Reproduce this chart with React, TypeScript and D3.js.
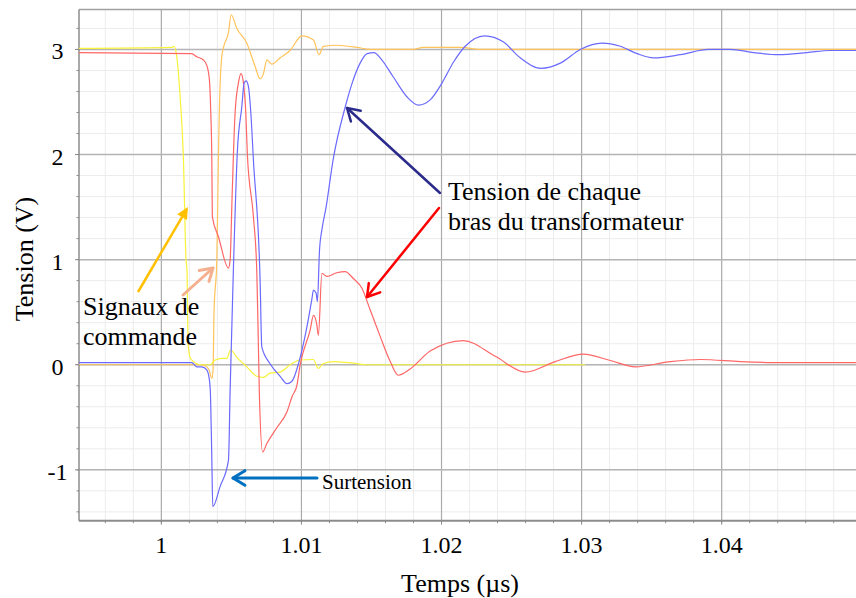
import React from "react";
import * as d3 from "d3";

// ---- data (time in µs, tension in V) ----
const xMajorTicks = [1, 1.01, 1.02, 1.03, 1.04];
const xTickLabels = ["1", "1.01", "1.02", "1.03", "1.04"];
const yMajorTicks = [-1, 0, 1, 2, 3];
const yTickLabels = ["-1", "0", "1", "2", "3"];

const yellowSignal: [number, number][] = [
  [0.9941, 3.01], [1.00076, 3.02], [1.00091, 3.03], [1.0011, 2.93], [1.00134, 2.55],
  [1.00157, 1.98], [1.00176, 1.0], [1.00183, 0.9], [1.00191, 0.2], [1.00205, 0.07],
  [1.00229, 0.03], [1.00276, 0.0], [1.00348, 0.0], [1.00384, 0.045], [1.00431, 0.06],
  [1.00467, 0.06], [1.00494, 0.14], [1.00539, 0.07], [1.0061, -0.02], [1.00681, -0.11],
  [1.00729, -0.12], [1.00776, -0.08], [1.00848, -0.07], [1.00919, 0.0], [1.00991, 0.045],
  [1.01084, 0.05], [1.01121, -0.035], [1.01155, 0.01], [1.01226, 0.03], [1.01369, 0.015],
  [1.01467, 0.0], [1.01919, 0.0], [1.03026, 0.0],
];

const orangeSignal: [number, number][] = [
  [0.9941, 0.0], [1.00276, 0.0], [1.00312, -0.01], [1.00341, -0.05], [1.0036, -0.13],
  [1.00369, -0.05], [1.00376, 0.5], [1.00396, 1.0], [1.00407, 1.95], [1.00414, 2.42],
  [1.00431, 2.93], [1.00448, 3.04], [1.00479, 3.16], [1.00498, 3.33], [1.00539, 3.2],
  [1.0061, 3.06], [1.00669, 2.84], [1.00705, 2.72], [1.00729, 2.77], [1.00753, 2.9],
  [1.00789, 2.86], [1.00848, 2.92], [1.00919, 2.99], [1.01003, 3.13], [1.01086, 3.09],
  [1.01126, 2.95], [1.01157, 3.03], [1.01253, 3.04], [1.01396, 3.02], [1.01491, 3.0],
  [1.01798, 3.0], [1.01869, 3.02], [1.02134, 3.02], [1.02276, 3.0], [1.04961, 3.0],
];

const redArm: [number, number][] = [
  [0.9941, 2.97], [1.00217, 2.96], [1.00253, 2.93], [1.003, 2.9], [1.00324, 2.85],
  [1.00343, 2.71], [1.00353, 2.39], [1.0036, 1.98], [1.00364, 1.41], [1.00407, 1.22],
  [1.00479, 0.92], [1.00491, 1.0], [1.00505, 1.6], [1.00526, 2.39], [1.0055, 2.68],
  [1.00569, 2.77], [1.00586, 2.68], [1.00603, 2.39], [1.00614, 2.0], [1.00657, 1.41],
  [1.00681, 0.9], [1.00691, 0.3], [1.007, -0.3], [1.00723, -0.83], [1.00753, -0.75],
  [1.00824, -0.6], [1.00896, -0.45], [1.00934, -0.3], [1.00967, -0.2], [1.00991, 0.0],
  [1.01062, 0.33], [1.01086, 0.47], [1.0111, 0.38], [1.01121, 0.28], [1.01146, 0.87],
  [1.01181, 0.84], [1.01253, 0.875], [1.01312, 0.885], [1.01371, 0.82], [1.01431, 0.73],
  [1.01491, 0.52], [1.01562, 0.27], [1.01634, 0.03], [1.01691, -0.1], [1.01776, -0.04],
  [1.01919, 0.13], [1.02155, 0.23], [1.02384, 0.08], [1.02598, -0.07], [1.02812, 0.03],
  [1.03012, 0.1], [1.03205, 0.04], [1.03384, -0.02], [1.03634, 0.03], [1.03848, 0.05],
  [1.04134, 0.03], [1.04419, 0.02], [1.04961, 0.02],
];

const blueArm: [number, number][] = [
  [0.9941, 0.02], [1.00217, 0.02], [1.00253, -0.02], [1.00289, -0.02], [1.00324, -0.05],
  [1.00343, -0.145], [1.00351, -0.3], [1.0036, -0.875], [1.00367, -1.35], [1.00419, -1.16],
  [1.00479, -0.91], [1.00491, -0.24], [1.00514, 0.9], [1.00543, 2.04], [1.00574, 2.45],
  [1.00591, 2.68], [1.00605, 2.7], [1.00621, 2.65], [1.00639, 2.39], [1.00657, 1.95],
  [1.00705, 0.8], [1.00717, 0.17], [1.00776, 0.01], [1.00848, -0.11], [1.00896, -0.18],
  [1.00931, -0.16], [1.00979, 0.01], [1.01039, 0.36], [1.01074, 0.62], [1.01086, 0.71],
  [1.01105, 0.68], [1.01114, 0.6], [1.01129, 1.09], [1.01148, 1.3], [1.01176, 1.5],
  [1.01226, 1.95], [1.01312, 2.45], [1.01362, 2.68], [1.01419, 2.87], [1.01469, 2.96],
  [1.01519, 2.97], [1.01562, 2.92], [1.01655, 2.74], [1.01753, 2.55], [1.01836, 2.47],
  [1.01919, 2.52], [1.02003, 2.68], [1.02086, 2.88], [1.02169, 3.03], [1.02307, 3.13],
  [1.02443, 3.07], [1.02562, 2.92], [1.0271, 2.82], [1.02848, 2.87], [1.02991, 3.0],
  [1.03146, 3.06], [1.03276, 3.03], [1.03396, 2.96], [1.03514, 2.92], [1.03705, 2.95],
  [1.03907, 3.0], [1.04062, 3.0], [1.04229, 2.97], [1.04407, 2.95], [1.0461, 2.97],
  [1.04776, 2.99], [1.04961, 2.99],
];

const W = 856;
const H = 598;
const FONT = "'Liberation Serif', 'Times New Roman', serif";

function Arrow({ x1, y1, x2, y2, color, width, filled }: any) {
  const ang = Math.atan2(y2 - y1, x2 - x1);
  const L = filled ? 13 : 14;
  const spread = filled ? 0.45 : 0.55;
  const ax = x2 - L * Math.cos(ang - spread);
  const ay = y2 - L * Math.sin(ang - spread);
  const bx = x2 - L * Math.cos(ang + spread);
  const by = y2 - L * Math.sin(ang + spread);
  if (filled) {
    const mx = x2 - L * 0.8 * Math.cos(ang);
    const my = y2 - L * 0.8 * Math.sin(ang);
    return (
      <g>
        <line x1={x1} y1={y1} x2={mx} y2={my} stroke={color} strokeWidth={width} />
        <path d={`M${x2},${y2}L${ax},${ay}L${bx},${by}Z`} fill={color} />
      </g>
    );
  }
  return (
    <g fill="none" stroke={color} strokeWidth={width} strokeLinecap="round" strokeLinejoin="round">
      <line x1={x1} y1={y1} x2={x2} y2={y2} />
      <path d={`M${ax},${ay}L${x2},${y2}L${bx},${by}`} />
    </g>
  );
}

export default function App() {
  const left = 79, right = 856, top = 9.5, bottom = 520.7;
  const x = d3.scaleLinear().domain([0.99412, 1.04959]).range([left, right]);
  const y = d3.scaleLinear().domain([-1.484, 3.38]).range([bottom, top]);

  const xMinor = d3.range(0, 28).map((i) => +(0.994 + i * 0.002).toFixed(4)).filter((v) => x(v) >= left && x(v) <= right);
  const yMinor = d3.range(0, 24).map((i) => +(-1.4 + i * 0.2).toFixed(2));

  const line = d3
    .line<[number, number]>()
    .x((d) => x(d[0]))
    .y((d) => y(d[1]))
    .curve(d3.curveMonotoneX);

  const series = [
    { data: orangeSignal, color: "#ffc35a" },
    { data: yellowSignal, color: "#f7f23a" },
    { data: redArm, color: "#ff6666" },
    { data: blueArm, color: "#6a6aff" },
  ];

  return (
    <svg width={W} height={H} style={{ position: "absolute", left: 0, top: 0, background: "#fff" }} fontFamily={FONT}>
      <defs>
        <clipPath id="plotclip">
          <rect x={left} y={top} width={right - left} height={bottom - top} />
        </clipPath>
      </defs>
      <rect x={0} y={0} width={W} height={H} fill="#fff" />
      {/* minor grid */}
      {xMinor.map((v, i) => (
        <line key={"xm" + i} x1={x(v)} x2={x(v)} y1={top} y2={bottom} stroke="#ececec" strokeWidth={1} />
      ))}
      {yMinor.map((v, i) => (
        <line key={"ym" + i} x1={left} x2={right} y1={y(v)} y2={y(v)} stroke="#ececec" strokeWidth={1} />
      ))}
      {/* major grid */}
      {xMajorTicks.map((v, i) => (
        <line key={"xg" + i} x1={x(v)} x2={x(v)} y1={top} y2={bottom} stroke="#ababab" strokeWidth={1.2} />
      ))}
      {yMajorTicks.map((v, i) => (
        <line key={"yg" + i} x1={left} x2={right} y1={y(v)} y2={y(v)} stroke="#b4b4b4" strokeWidth={1.5} />
      ))}
      {/* frame */}
      <line x1={left} x2={right} y1={top} y2={top} stroke="#a0a0a0" strokeWidth={1.5} />
      <line x1={left} x2={left} y1={top} y2={bottom} stroke="#8c8c8c" strokeWidth={1.5} />
      <line x1={left} x2={right} y1={bottom} y2={bottom} stroke="#8c8c8c" strokeWidth={2} />
      {/* ticks */}
      {xMinor.map((v, i) => (
        <line key={"xt" + i} x1={x(v)} x2={x(v)} y1={bottom} y2={bottom + 2.5} stroke="#8c8c8c" strokeWidth={1} />
      ))}
      {xMajorTicks.map((v, i) => (
        <line key={"xT" + i} x1={x(v)} x2={x(v)} y1={bottom} y2={bottom + 4} stroke="#8c8c8c" strokeWidth={1} />
      ))}
      {yMinor.map((v, i) => (
        <line key={"yt" + i} x1={left - 2.5} x2={left} y1={y(v)} y2={y(v)} stroke="#8c8c8c" strokeWidth={1} />
      ))}
      {yMajorTicks.map((v, i) => (
        <line key={"yT" + i} x1={left - 4} x2={left} y1={y(v)} y2={y(v)} stroke="#8c8c8c" strokeWidth={1} />
      ))}
      {/* series */}
      <g clipPath="url(#plotclip)">
        {series.map((s, i) => (
          <path key={"s" + i} d={line(s.data) || ""} fill="none" stroke={s.color} strokeWidth={1.2} strokeLinejoin="round" />
        ))}
      </g>
      {/* tick labels */}
      {xMajorTicks.map((v, i) => (
        <text key={"xl" + i} x={x(v)} y={552.7} textAnchor="middle" fontSize={24} fill="#000">
          {xTickLabels[i]}
        </text>
      ))}
      {yMajorTicks.map((v, i) => (
        <text key={"yl" + i} x={57.5} y={y(v) + 10} textAnchor="middle" fontSize={24} fill="#000">
          {yTickLabels[i]}
        </text>
      ))}
      {/* axis titles */}
      <text x={460} y={592} textAnchor="middle" fontSize={26} fill="#000">Temps (µs)</text>
      <text transform="translate(33,259) rotate(-90)" textAnchor="middle" fontSize={26} fill="#000">Tension (V)</text>
      {/* annotations */}
      <text x={448} y={200} fontSize={26} fill="#000">Tension de chaque</text>
      <text x={448} y={230} fontSize={26} fill="#000">bras du transformateur</text>
      <text x={83} y={315} fontSize={26} fill="#000">Signaux de</text>
      <text x={83} y={345} fontSize={26} fill="#000">commande</text>
      <text x={322} y={489} fontSize={21} fill="#000">Surtension</text>
      <Arrow x1={440} y1={193} x2={347} y2={108} color="#2b2b8c" width={2.5} />
      <Arrow x1={439} y1={208} x2={367} y2={297} color="#ff0000" width={2.5} />
      <Arrow x1={138} y1={292} x2={188} y2={207} color="#ffc000" width={2.5} filled />
      <Arrow x1={183} y1={295} x2={213} y2={268} color="#f4b08f" width={3} />
      <Arrow x1={317} y1={478} x2={233} y2={478} color="#0070c0" width={3} />
    </svg>
  );
}
